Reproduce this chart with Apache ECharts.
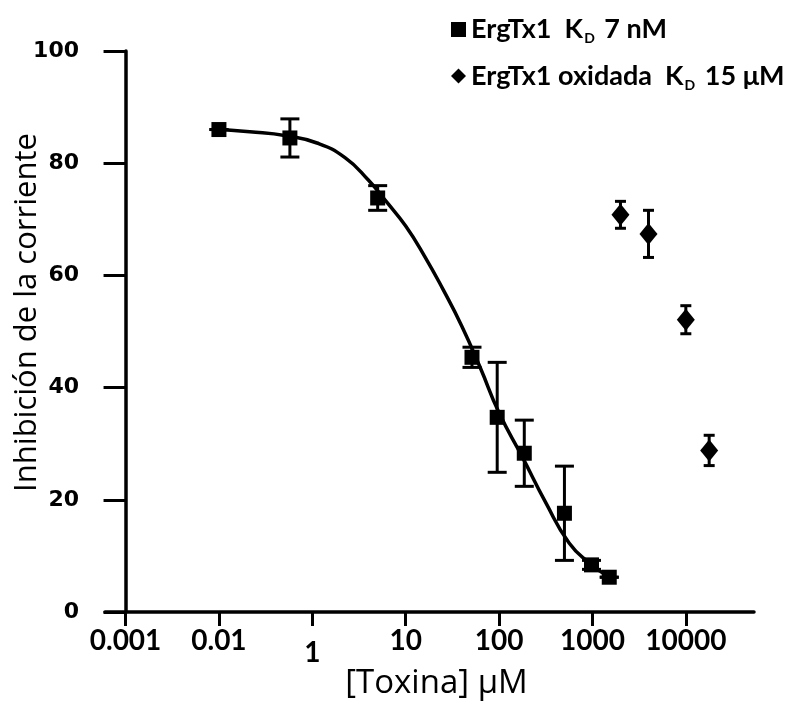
<!DOCTYPE html>
<html>
<head>
<meta charset="utf-8">
<script src="https://cdn.jsdelivr.net/npm/echarts@6/dist/echarts.min.js"></script>
<style>
html,body{margin:0;padding:0;background:#fff;}
#chart{width:796px;height:709px;}
</style>
</head>
<body>
<div id="chart"></div>
<script>
// Axis tick positions (one per decade slot) and their labels as printed
const tickPositions = [0, 1, 2, 3, 4, 5, 6];
const tickLabels = ['0.001', '0.01', '1', '10', '100', '1000', '10000'];
const yTicks = [0, 20, 40, 60, 80, 100];

// ErgTx1 (squares), x in tick-slot units
const ergX = [1.00, 1.76, 2.70, 3.71, 3.98, 4.27, 4.70, 4.99, 5.18];
const ergY = [86.0, 84.5, 73.8, 45.4, 34.7, 28.3, 17.6, 8.4, 6.2];
const ergErr = [0, 3.4, 2.2, 1.8, 9.8, 5.9, 8.4, 0.8, 0];

// ErgTx1 oxidada (diamonds)
const oxX = [5.30, 5.60, 6.00, 6.25];
const oxY = [70.8, 67.4, 52.1, 28.8];
const oxErr = [2.4, 4.2, 2.5, 2.7];

// Fitted curve
const fitX = [0.93, 1.33, 1.72, 2.05, 2.35, 2.60, 2.80, 3.00, 3.20, 3.40, 3.60, 3.80, 4.00, 4.25, 4.50, 4.75, 4.97, 5.18];
const fitY = [86.1, 85.6, 84.9, 83.6, 81.0, 77.0, 73.0, 68.8, 63.5, 57.5, 51.0, 43.5, 35.5, 27.6, 19.5, 12.3, 8.7, 6.2];

const legendNames = ['ErgTx1', 'ErgTx1 oxidada'];
const legendSuffix = {'ErgTx1': ['ErgTx1  K', 'D', ' 7 nM'], 'ErgTx1 oxidada': ['ErgTx1 oxidada  K', 'D', ' 15 μM']};

const chart = echarts.init(document.getElementById('chart'));

function errRender(cap) {
  return function (params, api) {
    const x = api.value(0), lo = api.value(1), hi = api.value(2);
    const p1 = api.coord([x, lo]);
    const p2 = api.coord([x, hi]);
    const st = {stroke: '#000', lineWidth: 3};
    return {
      type: 'group',
      children: [
        {type: 'line', shape: {x1: p1[0], y1: p1[1], x2: p2[0], y2: p2[1]}, style: st},
        {type: 'line', shape: {x1: p1[0] - cap / 2, y1: p1[1], x2: p1[0] + cap / 2, y2: p1[1]}, style: st},
        {type: 'line', shape: {x1: p2[0] - cap / 2, y1: p2[1], x2: p2[0] + cap / 2, y2: p2[1]}, style: st}
      ]
    };
  };
}

const option = {
  backgroundColor: '#fff',
  animation: false,
  grid: {left: 105, right: 42, top: 51, bottom: 97, containLabel: false, outerBoundsMode: 'none'},
  legend: {
    orient: 'vertical',
    left: 446,
    top: 11,
    itemWidth: 15,
    itemHeight: 15,
    itemGap: 17,
    data: [
      {name: legendNames[0], icon: 'rect'},
      {name: legendNames[1], icon: 'diamond'}
    ],
    itemStyle: {color: '#000', opacity: 1},
    formatter: function (name) {
      const p = legendSuffix[name];
      return '{n|' + p[0] + '}{s|' + p[1] + '}{n|' + p[2] + '}';
    },
    textStyle: {
      color: '#000',
      rich: {
        n: {fontFamily: 'Lato', fontWeight: 'bold', fontSize: 27, color: '#000', lineHeight: 32},
        s: {fontFamily: 'Lato', fontWeight: 'bold', fontSize: 14, color: '#000', lineHeight: 32, verticalAlign: 'bottom', padding: [0, 3, 0, 1]}
      }
    }
  },
  xAxis: {
    type: 'value',
    min: -0.22,
    max: 6.73,
    axisLine: {onZero: true, lineStyle: {color: '#000', width: 3.5}},
    axisTick: {show: true, customValues: tickPositions, length: 14, lineStyle: {color: '#000', width: 3}},
    axisLabel: {
      customValues: tickPositions,
      margin: 15,
      formatter: function (v) {
        const i = tickPositions.indexOf(v);
        if (i < 0) return '';
        return tickLabels[i] === '1' ? '{low|1}' : tickLabels[i];
      },
      color: '#000', fontFamily: 'Lato', fontWeight: 'bold', fontSize: 28,
      rich: {low: {color: '#000', fontFamily: 'Lato', fontWeight: 'bold', fontSize: 28, padding: [12, 0, 0, 0]}}
    },
    splitLine: {show: false},
    name: '[Toxina] μM',
    nameLocation: 'middle',
    nameGap: 55,
    nameMoveOverlap: false,
    nameTextStyle: {color: '#000', fontFamily: 'Open Sans', fontWeight: 'normal', fontSize: 33, padding: [0, 0, 0, 14]}
  },
  yAxis: {
    type: 'value',
    min: 0,
    max: 100,
    interval: 20,
    axisLine: {show: true, onZero: true, lineStyle: {color: '#000', width: 3.5}},
    axisTick: {show: true, length: 22, lineStyle: {color: '#000', width: 3}},
    axisLabel: {margin: 26, color: '#000', fontFamily: 'DejaVu Sans', fontWeight: 'bold', fontSize: 22,
      formatter: function (v) { return yTicks.indexOf(v) >= 0 ? String(v) : ''; }},
    splitLine: {show: false},
    name: 'Inhibición de la corriente',
    nameLocation: 'middle',
    nameRotate: 90,
    nameGap: 62,
    nameMoveOverlap: false,
    nameTextStyle: {color: '#000', fontFamily: 'Open Sans', fontWeight: 'normal', fontSize: 31, padding: [0, 0, 0, 38]}
  },
  series: [
    {
      name: 'fit',
      type: 'line',
      smooth: 0.5,
      symbol: 'none',
      lineStyle: {color: '#000', width: 3.5},
      data: fitX.map((x, i) => [x, fitY[i]]),
      z: 2
    },
    {
      name: 'errErg',
      type: 'custom',
      renderItem: errRender(19),
      encode: {x: 0, y: [1, 2]},
      data: ergX.map((x, i) => [x, ergY[i] - ergErr[i], ergY[i] + ergErr[i]]),
      z: 3
    },
    {
      name: legendNames[0],
      type: 'scatter',
      symbol: 'rect',
      symbolSize: 15,
      itemStyle: {color: '#000', opacity: 1},
      data: ergX.map((x, i) => [x, ergY[i]]),
      z: 4
    },
    {
      name: 'errOx',
      type: 'custom',
      renderItem: errRender(11),
      encode: {x: 0, y: [1, 2]},
      data: oxX.map((x, i) => [x, oxY[i] - oxErr[i], oxY[i] + oxErr[i]]),
      z: 3
    },
    {
      name: legendNames[1],
      type: 'scatter',
      symbol: 'diamond',
      symbolSize: [18, 22],
      itemStyle: {color: '#000', opacity: 1},
      data: oxX.map((x, i) => [x, oxY[i]]),
      z: 4
    }
  ]
};
chart.setOption(option);
</script>
</body>
</html>
